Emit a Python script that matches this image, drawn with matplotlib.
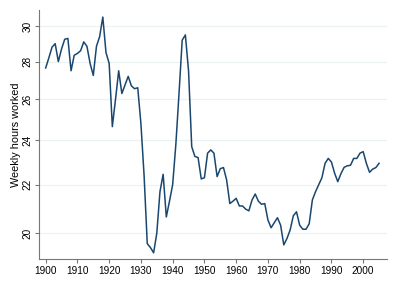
import matplotlib
matplotlib.use("Agg")
import matplotlib.pyplot as plt
from matplotlib.ticker import FixedLocator, NullLocator

plt.rcParams['font.family'] = ['Liberation Sans', 'DejaVu Sans']

# weekly hours worked per year, 1900-2005
years = list(range(1900, 2006))
hours = [
    27.65, 28.2, 28.8, 29.0, 28.0, 28.7, 29.25, 29.3, 27.5, 28.35,   # 1900s
    28.45, 28.6, 29.1, 28.85, 27.9, 27.25, 28.85, 29.4, 30.55, 28.5,  # 1910s
    27.9, 24.65, 26.0, 27.5, 26.3, 26.75, 27.2, 26.7, 26.55, 26.6,    # 1920s
    24.8, 22.4, 19.6, 19.45, 19.25, 20.0, 21.7, 22.45, 20.65, 21.3,   # 1930s
    22.0, 23.8, 26.3, 29.2, 29.5, 27.5, 23.7, 23.25, 23.2, 22.25,     # 1940s
    22.3, 23.4, 23.55, 23.4, 22.35, 22.7, 22.75, 22.2, 21.2, 21.3,    # 1950s
    21.42, 21.1, 21.1, 20.97, 20.9, 21.35, 21.6, 21.3, 21.17, 21.2,   # 1960s
    20.53, 20.22, 20.42, 20.62, 20.32, 19.55, 19.8, 20.13, 20.7, 20.86,  # 1970s
    20.32, 20.16, 20.16, 20.38, 21.35, 21.7, 22.0, 22.3, 22.94, 23.16,   # 1980s
    23.0, 22.5, 22.13, 22.48, 22.76, 22.83, 22.85, 23.16, 23.16, 23.4,   # 1990s
    23.47, 22.94, 22.54, 22.68, 22.75, 22.94,                            # 2000s
]
xticks = list(range(1900, 2001, 10))
yticks = [20, 22, 24, 26, 28, 30]

fig = plt.figure(figsize=(3.97, 2.89), dpi=100)
ax = fig.add_axes([0.099, 0.104, 0.875, 0.861])

ax.plot(years, hours, color='#1a476f', lw=1.1)

ax.set_yscale('log')
ax.set_ylim(19.02, 30.97)
ax.set_xlim(1898, 2007.4)
ax.yaxis.set_major_locator(FixedLocator(yticks))
ax.yaxis.set_minor_locator(NullLocator())
ax.set_yticks(yticks)
ax.set_yticklabels([str(v) for v in yticks], rotation=90, va='center')
ax.set_xticks(xticks)
ax.set_xticklabels([str(v) for v in xticks])

ax.grid(axis='y', color='#eaf2f3', lw=0.9)
ax.set_axisbelow(True)
for s in ['top', 'right']:
    ax.spines[s].set_visible(False)
for s in ['left', 'bottom']:
    ax.spines[s].set_color('#777777')
    ax.spines[s].set_linewidth(0.8)
ax.tick_params(axis='both', which='major', length=3, width=0.8, color='#777777',
               labelsize=7.2, labelcolor='black', pad=2)

ax.set_ylabel('Weekly hours worked', fontsize=7.8, labelpad=1)

fig.savefig('out.png', dpi=100)
